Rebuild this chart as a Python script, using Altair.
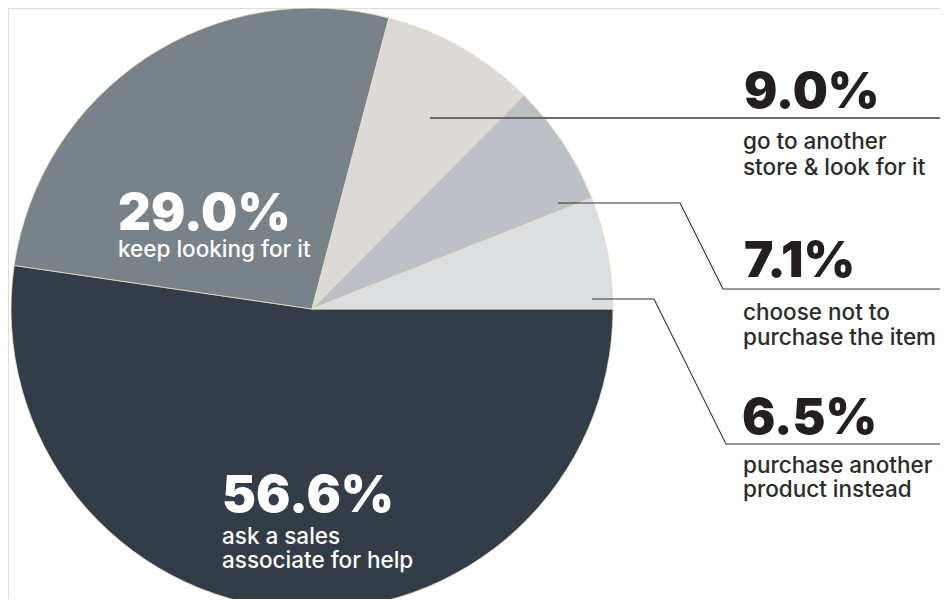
import math
import altair as alt
import pandas as pd

W, H = 932, 591

# Slice data (pie angles proportional to the values as drawn)
categories = ["ask a sales associate for help", "keep looking for it",
              "go to another store & look for it", "choose not to purchase the item",
              "purchase another product instead"]
values = [56.6, 29.0, 9.0, 7.1, 6.5]
colors = ["#323d47", "#7a8289", "#dcd9d7", "#bdc1c5", "#dcdee1"]

pie_df = pd.DataFrame({"cat": categories, "value": values,
                       "idx": list(range(len(values))), "color": colors})

# Annotation text
num_labels = ["29.0%", "56.6%", "9.0%", "7.1%", "6.5%"]
num_x = [110, 214, 736, 736, 734]
num_y = [222, 504, 100, 269, 426]
num_size = [51, 51, 49.5, 49.5, 49.5]
num_color = ["#ffffff", "#ffffff", "#231f20", "#231f20", "#231f20"]

sub_labels = ["keep looking for it", "ask a sales", "associate for help",
              "go to another", "store & look for it",
              "choose not to", "purchase the item",
              "purchase another", "product instead"]
sub_x = [110, 214, 214, 735, 735, 735, 735, 735, 735]
sub_y = [249, 536, 560, 141, 167, 312, 337, 465, 489]
sub_color = ["#ffffff", "#ffffff", "#ffffff"] + ["#2b2b2b"] * 6

# Leader lines (annotation anchor points)
lead_id = ["a", "a", "b", "b", "b", "b", "c", "c", "c", "c"]
lead_ord = [0, 1, 0, 1, 2, 3, 0, 1, 2, 3]
lead_x = [422, 932, 550, 672, 715, 932, 584, 646, 718, 932]
lead_y = [110, 110, 195, 195, 281, 281, 291, 291, 436, 436]

xs = alt.Scale(domain=[0, W], nice=False, zero=False)
ys = alt.Scale(domain=[H, 0], nice=False, zero=False)

pie = alt.Chart(pie_df).mark_arc(radius=301, stroke="#e4e0c4", strokeWidth=0.8).encode(
    theta=alt.Theta("value:Q", stack=True,
                    scale=alt.Scale(range=[math.pi / 2, math.pi / 2 + 2 * math.pi])),
    order=alt.Order("idx:Q", sort="ascending"),
    color=alt.Color("color:N", scale=None, legend=None),
    x=alt.value(304),
    y=alt.value(301),
)

lead_df = pd.DataFrame({"id": lead_id, "o": lead_ord, "x": lead_x, "y": lead_y})
lead_a = alt.Chart(lead_df[lead_df.id == "a"]).mark_line(color="#6b6b6b", strokeWidth=2).encode(
    x=alt.X("x:Q", scale=xs, axis=None),
    y=alt.Y("y:Q", scale=ys, axis=None),
    order="o:Q",
)
lead_bc = alt.Chart(lead_df[lead_df.id != "a"]).mark_line(color="#333333", strokeWidth=1.1).encode(
    x=alt.X("x:Q", scale=xs, axis=None),
    y=alt.Y("y:Q", scale=ys, axis=None),
    detail="id:N",
    order="o:Q",
)

num_df = pd.DataFrame({"t": num_labels, "x": num_x, "y": num_y, "s": num_size, "c": num_color})
nums = alt.Chart(num_df).mark_text(font="Inter", fontWeight=900, align="left",
                                   baseline="alphabetic").encode(
    x=alt.X("x:Q", scale=xs, axis=None),
    y=alt.Y("y:Q", scale=ys, axis=None),
    text="t:N",
    size=alt.Size("s:Q", scale=None, legend=None),
    color=alt.Color("c:N", scale=None, legend=None),
)

sub_df = pd.DataFrame({"t": sub_labels, "x": sub_x, "y": sub_y, "c": sub_color})
subs = alt.Chart(sub_df).mark_text(font="Inter", fontWeight=500, fontSize=22.5, align="left",
                                   baseline="alphabetic").encode(
    x=alt.X("x:Q", scale=xs, axis=None),
    y=alt.Y("y:Q", scale=ys, axis=None),
    text="t:N",
    color=alt.Color("c:N", scale=None, legend=None),
)

chart = alt.layer(pie, lead_a, lead_bc, nums, subs).properties(
    width=W, height=H, padding=0, autosize=alt.AutoSizeParams(type="none")
).configure_view(strokeWidth=0, stroke="transparent").configure(background="white")

chart.save("out.html", embed_options={"renderer": "svg", "actions": False})
